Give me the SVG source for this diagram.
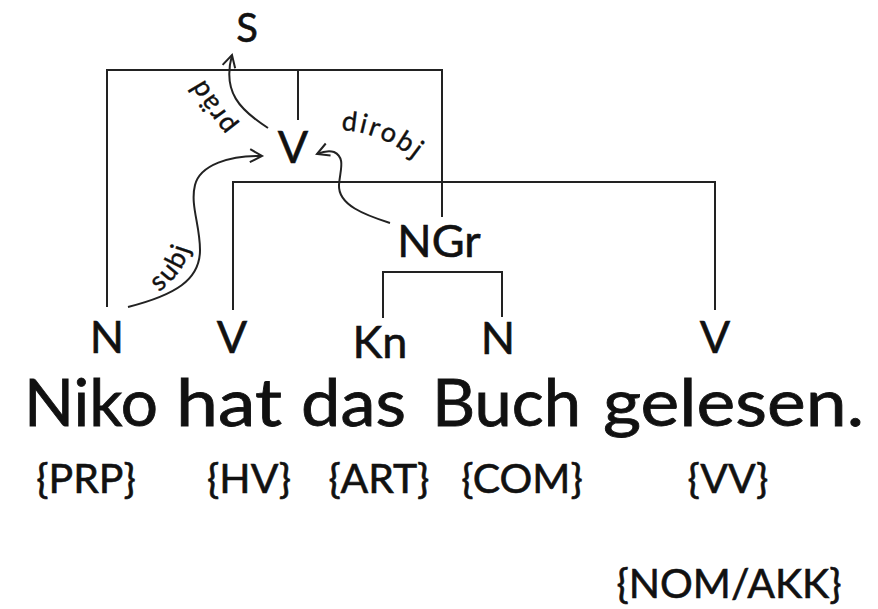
<svg xmlns="http://www.w3.org/2000/svg" width="878" height="609" viewBox="0 0 878 609">
<style>
.t{font-family:Lato,"Open Sans","Liberation Sans",sans-serif;fill:#111;stroke:#111;stroke-width:0.6}
.n{font-size:45px;text-anchor:middle}
.e{font-size:27px;stroke-width:0.4}
.w{font-size:65px;stroke-width:0.8}
.g{font-size:41px;text-anchor:middle}
.ln{fill:none;stroke:#222;stroke-width:2}
.ar{fill:none;stroke:#222;stroke-width:2;marker-end:url(#head)}
</style>
<defs>
<marker id="head" markerUnits="userSpaceOnUse" markerWidth="18" markerHeight="18" refX="14" refY="8" orient="auto" viewBox="0 0 18 16">
<path d="M2,1.5 L14,8 L2,14.5" fill="none" stroke="#222" stroke-width="2"/>
</marker>
<path id="pSubj" d="M159,292 C174,280 189,266 194,230"/>
<path id="pDir" d="M341,130 Q386,132 428,170"/>
<path id="pPraed" d="M237,126 Q213,97 195,62"/>
</defs>
<g id="connectors">
<path class="ln" d="M107,307 V70 H442 V217"/>
<path class="ln" d="M298,70 V120"/>
<path class="ln" d="M233,310 V182 H715 V310"/>
<path class="ln" d="M383,318 V272 H502 V317"/>
<path class="ar" d="M268,128 C240,110 222,92 232,55"/>
<path class="ar" d="M128,307 C175,295 200,280 200,250 C200,225 190,205 195,185 C200,165 230,155 262,156"/>
<path class="ar" d="M390,223 C365,215 338,205 339,185 C340,170 346,158 334,152 C328,150 322,152 317,154"/>
<text class="t e" letter-spacing="2"><textPath href="#pSubj">subj</textPath></text>
<text class="t e" letter-spacing="2.5"><textPath href="#pDir">dirobj</textPath></text>
<text class="t e" letter-spacing="1.5"><textPath href="#pPraed">präd</textPath></text>
</g>
<g id="node-S"><text class="t n" x="247" y="42" style="font-size:40px">S</text></g>
<g id="node-V-top"><text class="t n" x="293" y="163">V</text></g>
<g id="node-NGr"><text class="t n" x="439" y="257">NGr</text></g>
<g id="node-N1"><text class="t n" x="107" y="353">N</text></g>
<g id="node-V1"><text class="t n" x="232" y="353">V</text></g>
<g id="node-Kn"><text class="t n" x="380" y="358">Kn</text></g>
<g id="node-N2"><text class="t n" x="498" y="354">N</text></g>
<g id="node-V2"><text class="t n" x="715" y="353">V</text></g>
<g id="sentence">
<text class="t w" y="426"><tspan x="24" textLength="134" lengthAdjust="spacingAndGlyphs">Niko</tspan><tspan x="176" textLength="106" lengthAdjust="spacingAndGlyphs">hat</tspan><tspan x="301" textLength="105" lengthAdjust="spacingAndGlyphs">das</tspan><tspan x="432" textLength="149" lengthAdjust="spacingAndGlyphs">Buch</tspan><tspan x="603" textLength="261" lengthAdjust="spacingAndGlyphs">gelesen.</tspan></text>
</g>
<g id="tags">
<text class="t g" x="86" y="493">{PRP}</text>
<text class="t g" x="249" y="493">{HV}</text>
<text class="t g" x="379" y="493">{ART}</text>
<text class="t g" x="522" y="493">{COM}</text>
<text class="t g" x="728" y="493">{VV}</text>
<text class="t g" x="729" y="598">{NOM/AKK}</text>
</g>
</svg>
